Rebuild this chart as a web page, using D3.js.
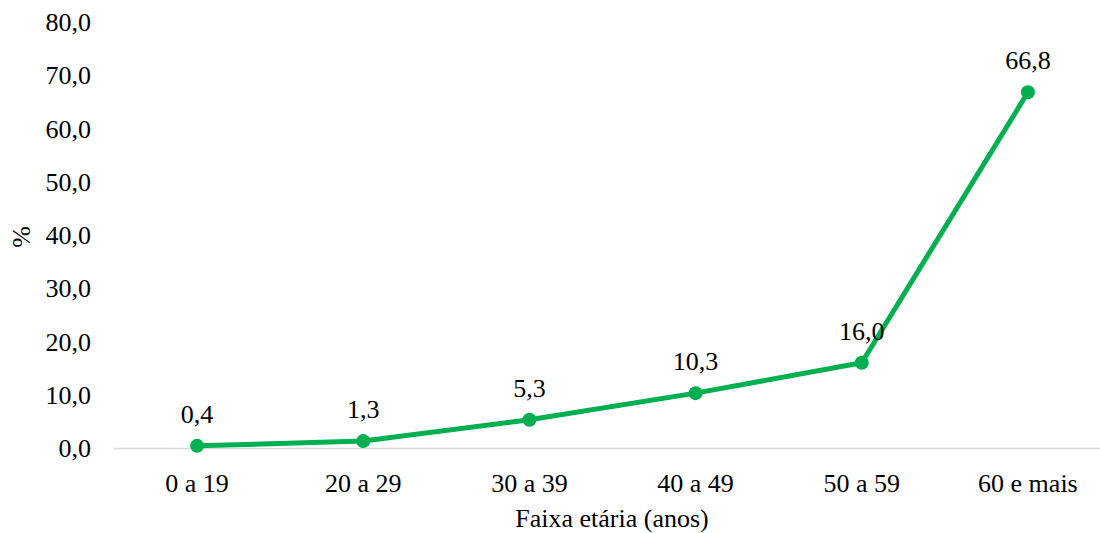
<!DOCTYPE html>
<html>
<head>
<meta charset="utf-8">
<script src="https://cdn.jsdelivr.net/npm/d3@7"></script>
<style>
  body { margin: 0; background: #fff; }
  text { font-family: "Liberation Serif", "Times New Roman", serif; fill: #000; }
</style>
</head>
<body>
<svg id="chart" width="1100" height="533"></svg>
<script>
var categories = ["0 a 19", "20 a 29", "30 a 39", "40 a 49", "50 a 59", "60 e mais"];
var values = [0.4, 1.3, 5.3, 10.3, 16.0, 66.8];
var yTicks = [0, 10, 20, 30, 40, 50, 60, 70, 80];

var svg = d3.select("#chart");
var plotLeft = 114, plotRight = 1111, plotTop = 22, plotBottom = 448;
var green = "#00B050";
var fs = "26px";
var fmt = function(v) { return v.toFixed(1).replace(".", ","); };

var x = d3.scaleBand().domain(categories).range([plotLeft, plotRight]);
var y = d3.scaleLinear().domain([0, 80]).range([plotBottom, plotTop]);
var cx = function(d) { return x(d.c) + x.bandwidth() / 2; };

// baseline
svg.append("line")
    .attr("x1", plotLeft).attr("x2", plotRight)
    .attr("y1", y(0) + 0.5).attr("y2", y(0) + 0.5)
    .attr("stroke", "#d9d9d9").attr("stroke-width", 1.5);

// y tick labels
svg.selectAll(".ytick")
    .data(yTicks)
    .enter().append("text")
    .attr("x", 91)
    .attr("y", function(d) { return y(d); })
    .attr("dy", "0.35em")
    .attr("text-anchor", "end")
    .attr("font-size", fs)
    .text(fmt);

// x tick labels
svg.selectAll(".xtick")
    .data(categories)
    .enter().append("text")
    .attr("x", function(d) { return x(d) + x.bandwidth() / 2; })
    .attr("y", 492)
    .attr("text-anchor", "middle")
    .attr("font-size", fs)
    .text(function(d) { return d; });

// axis titles
svg.append("text")
    .attr("x", 612).attr("y", 527)
    .attr("text-anchor", "middle")
    .attr("font-size", fs)
    .text("Faixa etária (anos)");

svg.append("text")
    .attr("transform", "translate(30,237) rotate(-90)")
    .attr("text-anchor", "middle")
    .attr("font-size", fs)
    .text("%");

var pts = categories.map(function(c, i) { return { c: c, v: values[i] }; });

var line = d3.line()
    .x(cx)
    .y(function(d) { return y(d.v); });

svg.append("path")
    .datum(pts)
    .attr("d", line)
    .attr("fill", "none")
    .attr("stroke", green)
    .attr("stroke-width", 5)
    .attr("stroke-linejoin", "round");

svg.selectAll(".pt")
    .data(pts)
    .enter().append("circle")
    .attr("cx", cx)
    .attr("cy", function(d) { return y(d.v); })
    .attr("r", 7)
    .attr("fill", green);

svg.selectAll(".lbl")
    .data(pts)
    .enter().append("text")
    .attr("x", cx)
    .attr("y", function(d) { return y(d.v) - 23; })
    .attr("text-anchor", "middle")
    .attr("font-size", fs)
    .text(function(d) { return fmt(d.v); });
</script>
</body>
</html>
